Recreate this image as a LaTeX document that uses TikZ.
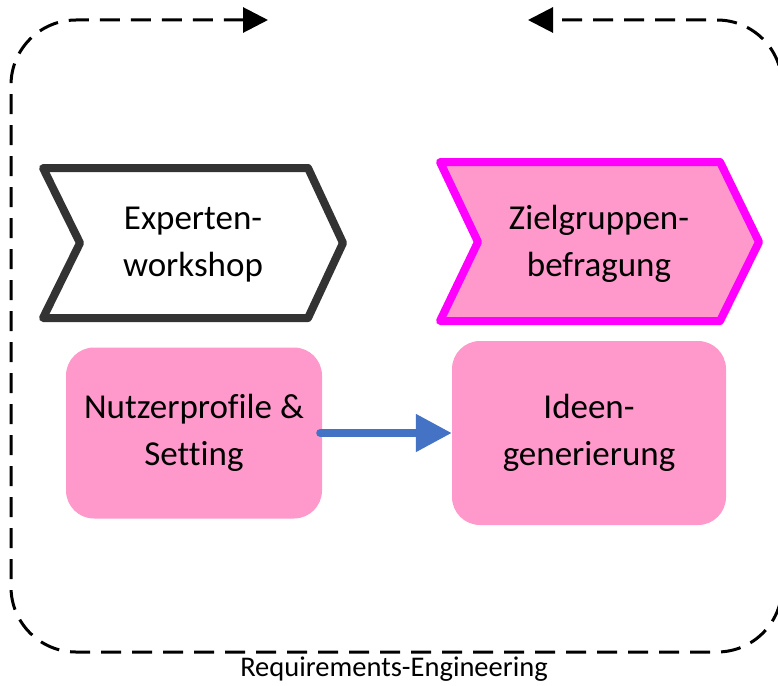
\documentclass[tikz,border=0pt]{standalone}
\usepackage{fontspec}
\setmainfont[Ligatures=NoCommon]{Carlito}
\usetikzlibrary{arrows.meta}
\definecolor{pinkfill}{HTML}{FF99CC}
\definecolor{magentaline}{HTML}{FF00FF}
\definecolor{darkline}{HTML}{333333}
\definecolor{bluearrow}{HTML}{4472C4}
\tikzset{
  loopline/.style={line width=3pt, dash pattern=on 20pt off 11pt, rounded corners=65pt,
    arrows={Triangle[length=25pt,width=25pt]-Triangle[length=25pt,width=25pt]}},
  chevlabel/.style={align=center, font=\fontsize{35}{47}\selectfont, inner sep=0pt},
  pinkbox/.style={fill=pinkfill, rounded corners=28pt, align=center, inner sep=0pt,
    font=\fontsize{35}{47}\selectfont},
  flowarrow/.style={draw=bluearrow, line width=8pt, line cap=round,
    arrows={-Triangle[length=36pt,width=36pt,line cap=butt]}},
}
\begin{document}
\begin{tikzpicture}[x=1pt,y=-1pt]
\useasboundingbox (0,0) rectangle (778,685);
\fill[white] (0,0) rectangle (778,685);
% dashed loop
\draw[loopline] (268,20) -- (11,20) -- (11,652) -- (782,652) -- (782,20) -- (528,20);
\node[font=\fontsize{28.5}{32}\selectfont, inner sep=0pt] (re) at (394,669) {Requirements-Engineering};
% left chevron
\draw[darkline, line width=8pt, line join=round, fill=white]
  (43,168) -- (308,168) -- (343,243) -- (308,318) -- (43,318) -- (80,243) -- cycle;
\node[chevlabel] (exp) at (193,245) {Experten-\\workshop};
% right chevron
\draw[magentaline, line width=8pt, line join=round, fill=pinkfill]
  (440,162) -- (720,162) -- (759,242) -- (720,321) -- (440,321) -- (478,242) -- cycle;
\node[chevlabel] (ziel) at (599,244) {Zielgruppen-\\befragung};
% boxes
\node[pinkbox, minimum width=256pt, minimum height=171pt] (nutzer) at (194,433) {Nutzerprofile \&\\Setting};
\node[pinkbox, minimum width=274pt, minimum height=184pt] (ideen) at (589,433) {Ideen-\\generierung};
\draw[flowarrow] ([xshift=-2pt]nutzer.east) -- (ideen.west);
\end{tikzpicture}
\end{document}
